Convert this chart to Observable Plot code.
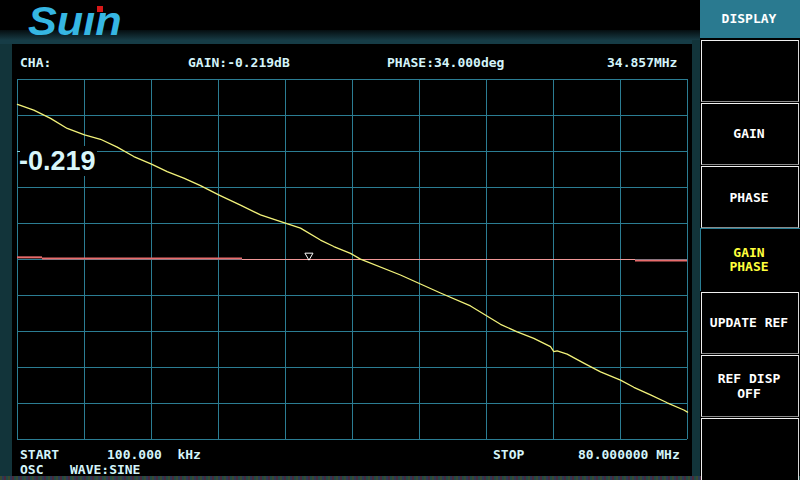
<!DOCTYPE html>
<html><head><meta charset="utf-8">
<script src="https://cdn.jsdelivr.net/npm/d3@7"></script>
<script src="https://cdn.jsdelivr.net/npm/@observablehq/plot@0.6"></script>
<style>
html,body{margin:0;padding:0;background:#000;}
#wrap{position:relative;width:800px;height:480px;overflow:hidden;background:#000;}
.abs{position:absolute;}
.t{position:absolute;font-family:"DejaVu Sans Mono",monospace;font-weight:bold;font-size:13px;line-height:13px;white-space:pre;color:#d4f4fa;}
.btn{position:absolute;left:701px;width:98px;box-sizing:border-box;border:1px solid;border-color:#f0f0f0 #d8d8d8 #8a8a8a #f0f0f0;background:#000;}
.bl{position:absolute;left:699px;width:100px;text-align:center;font-family:"DejaVu Sans Mono",monospace;font-weight:bold;font-size:13px;line-height:13px;white-space:pre;color:#ffffff;}
</style></head>
<body><div id="wrap">
  <!-- header band and panel frame -->
  <div class="abs" style="left:0;top:30px;width:700px;height:10px;background:linear-gradient(#050d10,#173a44);"></div>
  <div class="abs" style="left:0;top:40px;width:700px;height:4px;background:#163c46;"></div>
  <div class="abs" style="left:0;top:44px;width:12px;height:436px;background:#12343a;"></div>
  <div class="abs" style="left:692px;top:40px;width:8px;height:440px;background:#12343a;"></div>
  <div class="abs" style="left:0;top:476px;width:800px;height:4px;background:repeating-linear-gradient(90deg,#3a4a30 0 2px,#2a3a58 2px 4px,#4a2a3a 4px 6px,#204a48 6px 8px);"></div>
  <!-- logo -->
  <div class="abs" style="left:28px;top:0;font-family:'Liberation Sans',Arial,sans-serif;font-weight:bold;font-style:italic;font-size:40px;line-height:42px;color:#36b6e2;transform:scaleX(1.08);transform-origin:0 0;">Suın</div>
  <div class="abs" style="left:97px;top:6px;width:6px;height:6px;background:#d81818;"></div>
  <!-- right panel -->
  <div class="abs" style="left:700px;top:0;width:100px;height:38px;background:#2a7a90;"></div>
  <div class="btn" style="top:40px;height:62px;"></div>
  <div class="btn" style="top:103px;height:62px;"></div>
  <div class="btn" style="top:166px;height:62px;"></div>
  <div class="abs" style="left:700px;top:228px;width:100px;height:63px;box-sizing:border-box;border-top:1px solid #2a7e94;border-left:1px solid #2a7e94;background:#000;"></div>
  <div class="btn" style="top:292px;height:62px;"></div>
  <div class="btn" style="top:355px;height:62px;"></div>
  <div class="btn" style="top:418px;height:64px;"></div>
  <div id="chart" class="abs" style="left:0;top:0;"></div>
  <div id="labels"></div>
</div>
<script>
// ---- data ----
// frequency axis in MHz (linear sweep 100 kHz .. 80 MHz), vertical axis in divisions from centre
const freqStart = 0.1, freqStop = 80;
const gainFreq = [0.1, 2.04, 4.04, 6.03, 8.09, 10.0, 11.99, 13.97, 16.08, 17.95, 19.93, 21.92, 24.15, 26.69, 29.08, 30.87, 33.85, 36.23, 37.82, 39.81, 41.0, 45.77, 50.54, 54.12, 57.70, 59.69, 61.67, 63.66, 64.06, 64.46, 65.65, 67.63, 69.63, 72.01, 73.60, 75.59, 77.58, 79.56, 80.0];
const gainDiv  = [4.31, 4.15, 3.92, 3.64, 3.46, 3.34, 3.12, 2.86, 2.65, 2.44, 2.26, 2.05, 1.79, 1.51, 1.24, 1.10, 0.87, 0.54, 0.36, 0.17, 0.01, -0.43, -0.93, -1.29, -1.80, -2.01, -2.19, -2.42, -2.56, -2.54, -2.63, -2.88, -3.12, -3.35, -3.55, -3.76, -3.98, -4.18, -4.24];
const phaseFrom = [0.1, 3.08, 26.93, 73.80];
const phaseTo   = [3.08, 26.93, 73.80, 80.0];
const phaseDiv  = [0.06, 0.03, 0.0, -0.03];
const markerFreq = 34.857;
const refLevelText = "-0.219";
const headerTexts = ["CHA:", "GAIN:-0.219dB", "PHASE:34.000deg", "34.857MHz"];
const footerTexts = ["START", "100.000  kHz", "STOP", "80.000000 MHz", "OSC", "WAVE:SINE"];
const menuTitle = "DISPLAY";
const menuItems = ["", "GAIN", "PHASE", "GAIN\nPHASE", "UPDATE REF", "REF DISP\nOFF", ""];

// ---- derived tables ----
const divisions = 10;
const gridFreq = d3.range(divisions + 1).map(i => freqStart + i * (freqStop - freqStart) / divisions);
const gridDiv = d3.range(-5, 6);
const gain = gainFreq.map((f, i) => ({f, v: gainDiv[i]}));
const phase = phaseFrom.map((f, i) => ({f1: f, f2: phaseTo[i], v: phaseDiv[i], i}));

const grid = "#2b7d93";
const chart = Plot.plot({
  width: 800, height: 480,
  marginLeft: 17, marginRight: 113, marginTop: 79, marginBottom: 41,
  x: {domain: [freqStart, freqStop], axis: null},
  y: {domain: [-5, 5], axis: null},
  style: {background: "transparent", overflow: "visible"},
  marks: [
    Plot.ruleX(gridFreq, {x: d => d, stroke: grid, strokeWidth: 1}),
    Plot.ruleY(gridDiv, {y: d => d, stroke: grid, strokeWidth: 1}),
    Plot.ruleY(phase, {y: "v", x1: "f1", x2: "f2",
      stroke: d => d.i === 2 ? "mid" : "end",
      strokeWidth: d => d.i === 2 ? 1 : 2}),
    Plot.line(gain, {x: "f", y: "v", stroke: "#f2f27a", strokeWidth: 1.3}),
    Plot.dot([markerFreq], {x: d => d, y: 0, symbol: "triangle", rotate: 180, r: 3, stroke: "#ffffff", fill: "none", strokeWidth: 1, dy: -4})
  ],
  color: {domain: ["mid", "end"], range: ["#f09898", "#e86c6c"]}
});
document.getElementById("chart").appendChild(chart);

// ---- text overlays ----
const L = document.getElementById("labels");
function txt(cls, s, left, top, style) {
  const d = document.createElement("div");
  d.className = cls; d.textContent = s;
  d.style.left = left + "px"; d.style.top = top + "px";
  if (style) Object.assign(d.style, style);
  L.appendChild(d);
  return d;
}
// reference level readout with black backing
txt("abs", refLevelText, 18, 146, {background: "#000", width: "79px", height: "30px",
  fontFamily: "'Liberation Sans',Arial,sans-serif", fontWeight: "bold", fontSize: "27px",
  lineHeight: "30px", color: "#d8f6fa", paddingLeft: "1px", boxSizing: "border-box"});
txt("abs", "", 17, 151, {width: "3px", height: "1px", background: "#7fd0e0"});

const hx = [20, 188, 387, 607];
headerTexts.forEach((s, i) => txt("t", s, hx[i], 56));
const fx = [20, 107, 493, 578, 20, 70], fy = [448, 448, 448, 448, 463, 463];
footerTexts.forEach((s, i) => txt("t", s, fx[i], fy[i]));

txt("bl", menuTitle, 699, 12);
const tops = [[], [127], [191], [246, 260], [316], [372, 387], []];
menuItems.forEach((s, i) => {
  const lines = s ? s.split("\n") : [];
  lines.forEach((ln, j) => txt("bl", ln, 699, tops[i][j], i === 3 ? {color: "#ffff3c"} : null));
});
</script>
</body></html>
